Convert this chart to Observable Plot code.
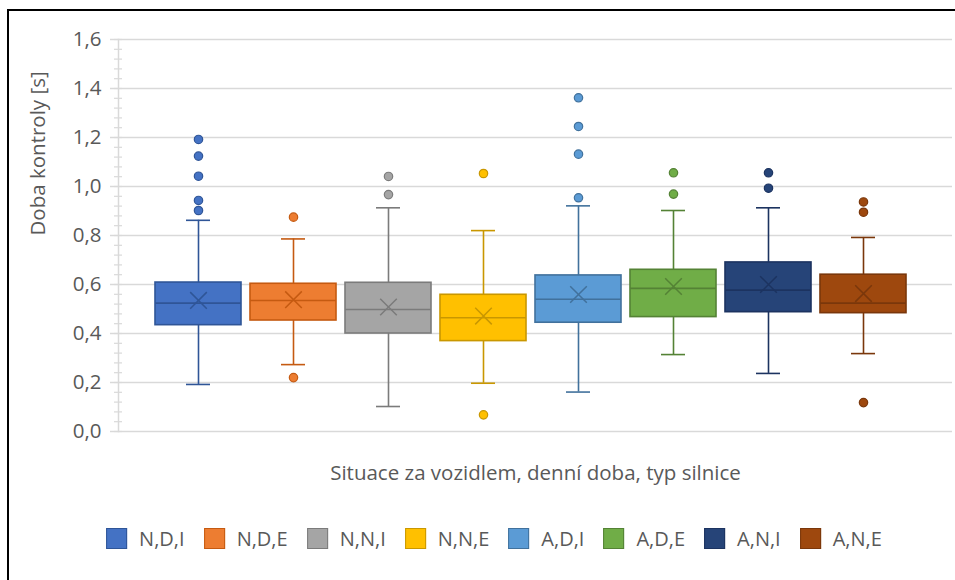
<!DOCTYPE html>
<html>
<head>
<meta charset="utf-8">
<script src="https://cdn.jsdelivr.net/npm/d3@7"></script>
<script src="https://cdn.jsdelivr.net/npm/@observablehq/plot@0.6"></script>
<style>
  html, body { margin: 0; padding: 0; background: #fff; overflow: hidden; }
  #wrap { position: relative; width: 955px; height: 580px; font-family: "Open Sans", sans-serif; color: #595959; }
  #chart { position: absolute; left: 0; top: 0; }
  #border { position: absolute; left: 7px; top: 9px; width: 1000px; height: 700px; border-top: 2px solid #000; border-left: 2px solid #000; pointer-events: none; }
  #legend { position: absolute; top: 528px; left: 494px; transform: translateX(-50%); display: flex; align-items: center; white-space: nowrap; font-size: 20px; line-height: 21px; }
  .item { display: flex; align-items: center; margin-right: 19px; }
  .item:last-child { margin-right: 0; }
  .sw { width: 21px; height: 21px; box-sizing: border-box; border: 1.5px solid; margin-right: 12px; }
</style>
</head>
<body>
<div id="wrap">
  <div id="chart"></div>
  <div id="legend"></div>
  <div id="border"></div>
</div>
<script>
// ---- data ----
const series = ["N,D,I", "N,D,E", "N,N,I", "N,N,E", "A,D,I", "A,D,E", "A,N,I", "A,N,E"];
const lowWhisker  = [0.192, 0.273, 0.102, 0.197, 0.161, 0.314, 0.237, 0.318];
const q1          = [0.434, 0.453, 0.400, 0.369, 0.444, 0.467, 0.487, 0.483];
const median      = [0.524, 0.535, 0.498, 0.464, 0.540, 0.584, 0.577, 0.524];
const q3          = [0.608, 0.603, 0.607, 0.558, 0.637, 0.660, 0.690, 0.640];
const highWhisker = [0.862, 0.786, 0.913, 0.820, 0.921, 0.902, 0.913, 0.792];
const mean        = [0.535, 0.538, 0.508, 0.471, 0.559, 0.592, 0.600, 0.563];
const outliers = [
  [1.192, 1.124, 1.042, 0.943, 0.902],
  [0.875, 0.220],
  [1.041, 0.967],
  [1.053, 0.068],
  [1.362, 1.245, 1.132, 0.954],
  [1.056, 0.969],
  [1.056, 0.993],
  [0.937, 0.895, 0.118]
];
const yTicks = [0, 0.2, 0.4, 0.6, 0.8, 1.0, 1.2, 1.4, 1.6];
const yTickLabels = ["0,0", "0,2", "0,4", "0,6", "0,8", "1,0", "1,2", "1,4", "1,6"];
const yTitle = "Doba kontroly [s]";
const xTitle = "Situace za vozidlem, denní doba, typ silnice";

// ---- styles ----
const fillColors = ["#4472C4", "#ED7D31", "#A5A5A5", "#FFC000", "#5B9BD5", "#70AD47", "#264478", "#9E480E"];
const lineColors = ["#2F5597", "#C55A11", "#7B7B7B", "#C99700", "#41719C", "#548235", "#1C3360", "#7A370B"];
const minorTicks = d3.range(0, 41).map(i => +(i * 0.04).toFixed(2));

const stats = series.map((s, i) => ({series: s, lo: lowWhisker[i], q1: q1[i], med: median[i], q3: q3[i], hi: highWhisker[i], mean: mean[i]}));
const outlierRows = outliers.flatMap((vals, i) => vals.map(v => ({series: series[i], value: v})));

const boxMarks = series.flatMap((s, i) => {
  const st = stats.filter(d => d.series === s);
  const out = outlierRows.filter(d => d.series === s);
  const fill = fillColors[i], line = lineColors[i];
  return [
    Plot.ruleX(st, {x: "series", y1: "q3", y2: "hi", stroke: line, strokeWidth: 1.6}),
    Plot.ruleX(st, {x: "series", y1: "lo", y2: "q1", stroke: line, strokeWidth: 1.6}),
    Plot.tickY(st, {x: "series", y: "hi", stroke: line, strokeWidth: 1.6, insetLeft: 31, insetRight: 31}),
    Plot.tickY(st, {x: "series", y: "lo", stroke: line, strokeWidth: 1.6, insetLeft: 31, insetRight: 31}),
    Plot.barY(st, {x: "series", y1: "q1", y2: "q3", fill: fill, stroke: line, strokeWidth: 1.6}),
    Plot.tickY(st, {x: "series", y: "med", stroke: line, strokeWidth: 1.6}),
    Plot.dot(st, {x: "series", y: "mean", symbol: "times", r: 7.6, stroke: line, strokeWidth: 1.5}),
    Plot.dot(out, {x: "series", y: "value", r: 4.2, fill: fill, stroke: line, strokeWidth: 1.2})
  ];
});

const fs = 20.5;
const chart = Plot.plot({
  width: 955,
  height: 500,
  marginLeft: 118,
  marginRight: 3,
  marginTop: 39,
  marginBottom: 69,
  style: {fontFamily: "'Open Sans', sans-serif", fontSize: fs + "px", color: "#595959", background: "transparent"},
  x: {domain: series, range: [149.3, 912.7], paddingInner: 0.09, paddingOuter: 0.045, axis: null},
  y: {domain: [0, 1.6], axis: null},
  marks: [
    Plot.gridY({ticks: yTicks, stroke: "#d9d9d9", strokeOpacity: 1, strokeWidth: 1.5}),
    Plot.axisY({ticks: minorTicks, tickSize: 8, dx: 4, tickFormat: () => "", stroke: "#d9d9d9", strokeWidth: 1.2, label: null}),
    Plot.axisY({ticks: yTicks, tickSize: 8, tickPadding: 9, tickFormat: d => yTickLabels[yTicks.indexOf(d)], stroke: "#d9d9d9", strokeWidth: 1.5, fill: "#595959", label: null}),
    Plot.frame({anchor: "left", stroke: "#d9d9d9", strokeWidth: 1.5}),
    ...boxMarks,
    Plot.text([yTitle], {text: d => d, frameAnchor: "left", rotate: -90, dx: -80, fill: "#595959", fontSize: fs}),
    Plot.text([xTitle], {text: d => d, frameAnchor: "bottom", lineAnchor: "bottom", dy: 48, fill: "#595959", fontSize: fs})
  ]
});
document.getElementById("chart").appendChild(chart);

// ---- legend ----
const legend = document.getElementById("legend");
series.forEach((s, i) => {
  const item = document.createElement("div");
  item.className = "item";
  const sw = document.createElement("div");
  sw.className = "sw";
  sw.style.background = fillColors[i];
  sw.style.borderColor = lineColors[i];
  const label = document.createElement("span");
  label.textContent = s;
  item.appendChild(sw);
  item.appendChild(label);
  legend.appendChild(item);
});
</script>
</body>
</html>
